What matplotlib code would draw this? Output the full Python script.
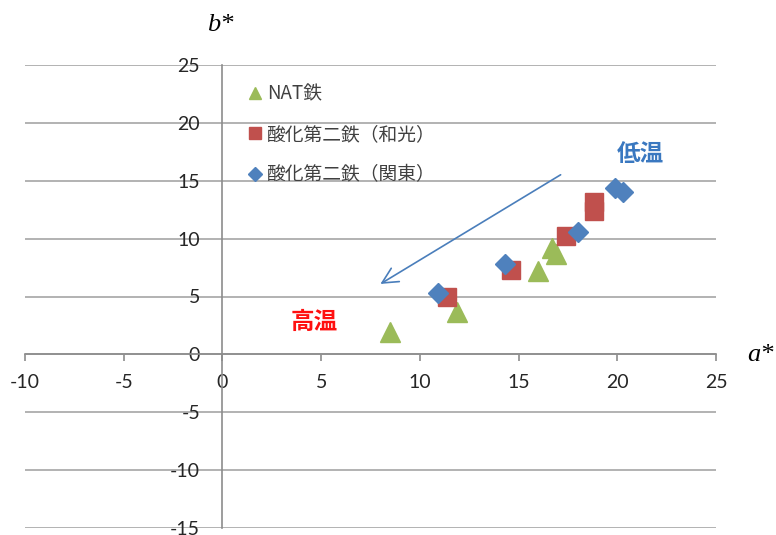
import matplotlib
matplotlib.use("Agg")
import matplotlib.pyplot as plt

plt.rcParams['axes.unicode_minus'] = False

# ---- data ----
nat_a = [8.5, 11.9, 16.0, 16.7, 16.9]
nat_b = [1.9, 3.7, 7.2, 9.2, 8.7]
wako_a = [11.4, 14.6, 17.4, 18.8, 18.8]
wako_b = [5.0, 7.3, 10.2, 13.2, 12.4]
kanto_a = [10.9, 14.3, 18.0, 19.9, 20.3]
kanto_b = [5.3, 7.8, 10.6, 14.4, 14.0]
series_labels = ["NAT鉄", "酸化第二鉄（和光）", "酸化第二鉄（関東）"]
x_ticks = [-10, -5, 0, 5, 10, 15, 20, 25]
y_ticks = [-15, -10, -5, 0, 5, 10, 15, 20, 25]
arrow_start = (17.25, 15.64)
arrow_end = (7.88, 5.96)

cjk = ['Noto Sans CJK JP', 'DejaVu Sans']
W, H = 776, 535
fig = plt.figure(figsize=(W / 100, H / 100), dpi=100)
ax = fig.add_axes([25 / W, 7 / H, (716 - 25) / W, (528 - 65) / H])

ax.plot(nat_a, nat_b, linestyle='none', marker='^', ms=14, color='#9bbb59', label=series_labels[0])
ax.plot(wako_a, wako_b, linestyle='none', marker='s', ms=13, color='#c0504d', label=series_labels[1])
ax.plot(kanto_a, kanto_b, linestyle='none', marker='D', ms=10.5, color='#4f81bd', label=series_labels[2])

ax.set_xlim(-10, 25)
ax.set_ylim(-15, 25)
ax.set_xticks(x_ticks)
ax.set_yticks(y_ticks)
ax.yaxis.grid(True, color='#a6a6a6', lw=1.2)
ax.set_axisbelow(True)

for s in ['top', 'right']:
    ax.spines[s].set_visible(False)
ax.spines['left'].set_position(('data', 0))
ax.spines['bottom'].set_position(('data', 0))
for s in ['left', 'bottom']:
    ax.spines[s].set_color('#8c8c8c')
    ax.spines[s].set_linewidth(1.2)

ax.tick_params(axis='x', direction='out', length=5, width=1.2, color='#8c8c8c', pad=9,
               labelsize=14, labelcolor='#262626')
ax.tick_params(axis='y', length=0, pad=16, labelsize=14, labelcolor='#262626')
for lab in ax.get_xticklabels() + ax.get_yticklabels():
    lab.set_fontfamily('Lato')

ax.annotate('', xy=arrow_end, xytext=arrow_start,
            arrowprops=dict(arrowstyle='->', color='#4a7ebb', lw=1.2, mutation_scale=28))

ax.text(21.15, 17.3, '低温', color='#3a78c0', fontsize=17, fontweight='bold',
        family=cjk, ha='center', va='center')
ax.text(4.64, 2.77, '高温', color='#ff1010', fontsize=17, fontweight='bold',
        family=cjk, ha='center', va='center')

leg = ax.legend(loc='upper left', bbox_to_anchor=(242 / W, 1 - 76 / H),
                bbox_transform=fig.transFigure, frameon=False, markerscale=0.65,
                handlelength=0.6, handletextpad=0.35, labelspacing=1.04,
                borderaxespad=0, prop={'family': cjk, 'size': 13.5})
for t in leg.get_texts():
    t.set_color('#404040')

fig.text(220 / W, 1 - 25 / H, 'b*', family='Liberation Serif', style='italic',
         fontsize=19, ha='center', va='center')
fig.text(760 / W, 1 - 355 / H, 'a*', family='Liberation Serif', style='italic',
         fontsize=19, ha='center', va='center')

fig.savefig('out.png', dpi=100)
